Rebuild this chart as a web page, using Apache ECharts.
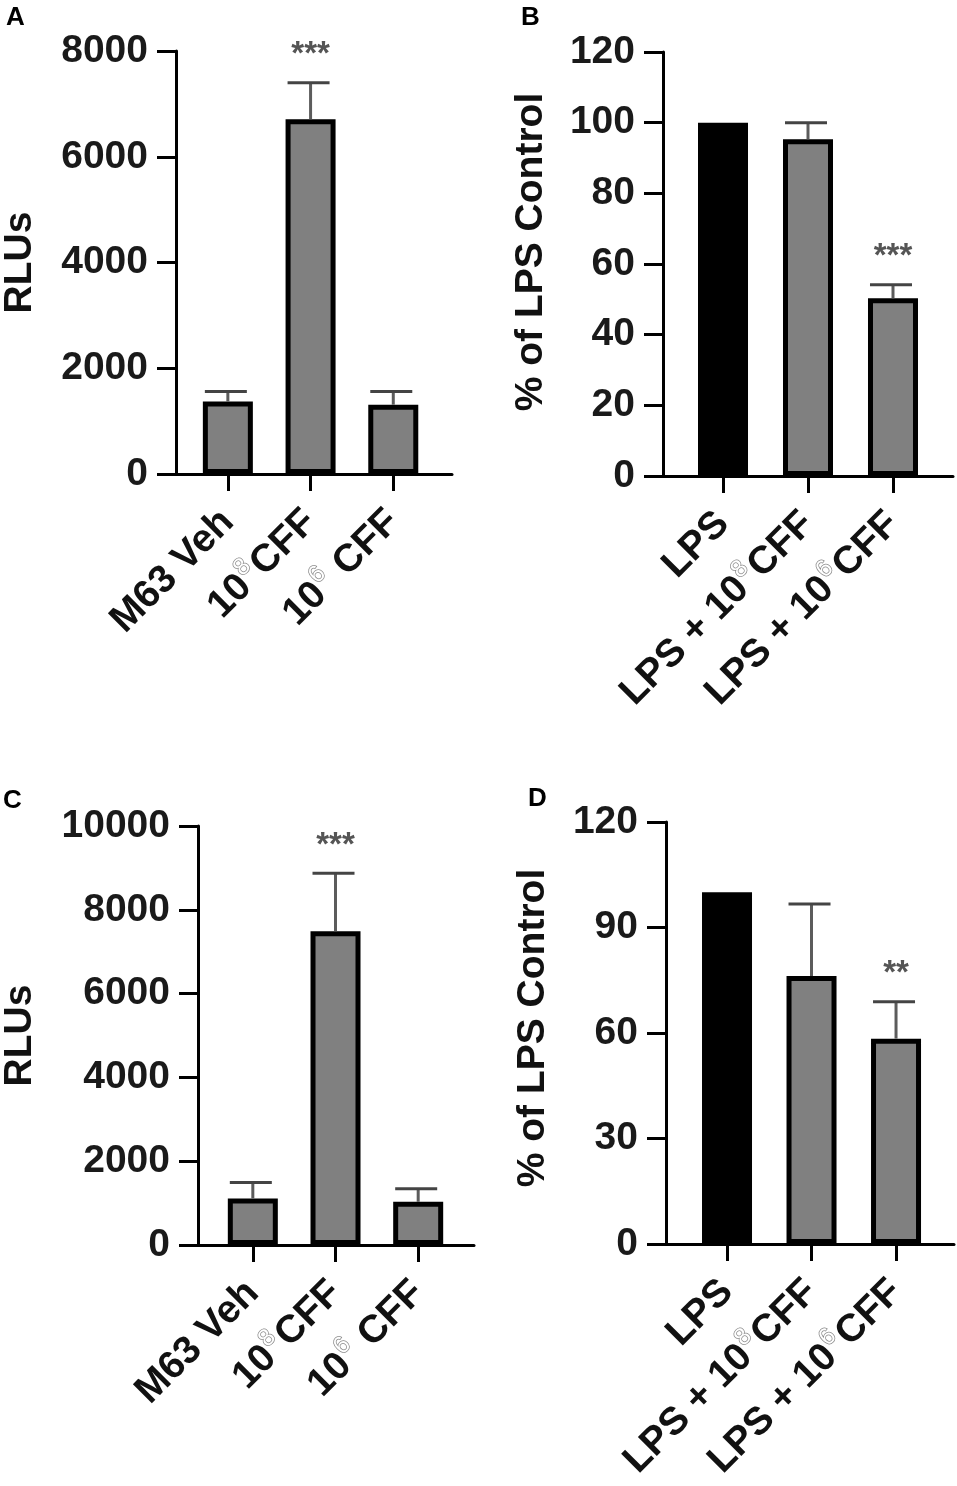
<!DOCTYPE html>
<html lang="en">
<head>
<meta charset="UTF-8">
<title>RLUs / % of LPS Control</title>
<style>
    html, body { margin: 0; padding: 0; background: #fff; }
    #container { width: 957px; height: 1486px; }
</style>
<script src="https://cdn.jsdelivr.net/npm/echarts@6/dist/echarts.min.js"></script>
</head>
<body>
<div id="container"></div>
<script type="text/javascript">
// category labels ({s|..} = superscript)
var labelsRLU = ['M63 Veh', '10{s|8}CFF', '10{s|6} CFF'];
var labelsLPS = ['LPS', 'LPS + 10{s|8}CFF', 'LPS + 10{s|6}CFF'];

// A - RLUs
var meanA = [1370, 6710, 1310];
var semA  = [190, 690, 250];
var starA = ['', '***', ''];

// B - % of LPS control
var meanB = [100, 95.3, 50.3];
var semB  = [0, 4.7, 3.8];
var starB = ['', '', '***'];

// C - RLUs
var meanC = [1110, 7490, 1030];
var semC  = [380, 1380, 310];
var starC = ['', '***', ''];

// D - % of LPS control
var meanD = [100, 76.2, 58.4];
var semD  = [0, 20.5, 10.5];
var starD = ['', '', '**'];

var FONT = '"Liberation Sans", Arial, sans-serif';
var GREY = '#808080';
var FS = 39;

var panels = [
    {letter: 'A', lx: 6,   ly: 5,   grid: {left: 170, top: 51,  width: 282, height: 423}, xr: [-0.627, 2.71],
     yMax: 8000,  yStep: 2000, name: 'RLUs', nameGap: 136, namePad: 0, cats: labelsRLU, mean: meanA, sem: semA, star: starA, ctrl: false},
    {letter: 'B', lx: 521, ly: 5,   grid: {left: 663, top: 52,  width: 290, height: 424}, xr: [-0.706, 2.706],
     yMax: 120,   yStep: 20,   name: '% of LPS Control', nameGap: 112, namePad: [0, 0, 0, 24], cats: labelsLPS, mean: meanB, sem: semB, star: starB, ctrl: true},
    {letter: 'C', lx: 3,   ly: 788, grid: {left: 192, top: 826, width: 282, height: 419}, xr: [-0.663, 2.675],
     yMax: 10000, yStep: 2000, name: 'RLUs', nameGap: 158, namePad: 0, cats: labelsRLU, mean: meanC, sem: semC, star: starC, ctrl: false},
    {letter: 'D', lx: 528, ly: 786, grid: {left: 666, top: 822, width: 288, height: 423}, xr: [-0.722, 2.686],
     yMax: 120,   yStep: 30,   name: '% of LPS Control', nameGap: 113, namePad: [0, 0, 0, 10], cats: labelsLPS, mean: meanD, sem: semD, star: starD, ctrl: true}
];

var myChart = echarts.init(document.getElementById('container'), null, {renderer: 'canvas'});

var grids = [], xAxes = [], yAxes = [], series = [], graphic = [];

panels.forEach(function (p, i) {
    grids.push(p.grid);

    xAxes.push({
        gridIndex: i,
        type: 'value',
        min: p.xr[0],
        max: p.xr[1],
        splitLine: {show: false},
        axisLine: {onZero: false, lineStyle: {color: '#000', width: 3}},
        axisTick: {show: true, customValues: [0, 1, 2], length: 17, lineStyle: {color: '#000', width: 3}},
        axisLabel: {
            customValues: [0, 1, 2],
            rotate: 45,
            margin: 42,
            fontFamily: FONT,
            fontSize: FS,
            fontWeight: 'bold',
            lineHeight: 48,
            color: '#111',
            formatter: function (v) { return p.cats[Math.round(v)]; },
            rich: {
                s: {
                    fontFamily: FONT,
                    fontSize: 24,
                    lineHeight: 24,
                    fontWeight: 'normal',
                    color: '#fff',
                    textBorderColor: '#8a8a8a',
                    textBorderWidth: 1.5,
                    verticalAlign: 'top',
                    padding: [0, 2, 0, 1]
                }
            }
        }
    });

    yAxes.push({
        gridIndex: i,
        type: 'value',
        min: 0,
        max: p.yMax,
        interval: p.yStep,
        name: p.name,
        nameLocation: 'middle',
        nameGap: p.nameGap,
        nameRotate: 90,
        nameTextStyle: {fontFamily: FONT, fontSize: FS, fontWeight: 'bold', color: '#111', padding: p.namePad},
        splitLine: {show: false},
        axisLine: {show: true, onZero: false, lineStyle: {color: '#000', width: 3}},
        axisTick: {show: true, length: 19, lineStyle: {color: '#000', width: 3}},
        axisLabel: {
            margin: 28, fontFamily: FONT, fontSize: FS, fontWeight: 'bold', color: '#1a1a1a',
            formatter: function (v) { return String(v); }
        }
    });

    series.push({
        type: 'bar',
        xAxisIndex: i,
        yAxisIndex: i,
        barWidth: 50,
        silent: true,
        itemStyle: {borderColor: '#000', borderWidth: 5},
        data: p.mean.map(function (v, k) {
            return {value: [k, v], itemStyle: {color: (p.ctrl && k === 0) ? '#000' : GREY}};
        })
    });

    // error bars (mean + SEM) and significance stars
    series.push({
        type: 'custom',
        xAxisIndex: i,
        yAxisIndex: i,
        silent: true,
        z: 3,
        data: p.mean.map(function (v, k) { return [k, v, p.sem[k]]; }),
        renderItem: function (params, api) {
            var k = api.value(0), m = api.value(1), e = api.value(2);
            var base = api.coord([k, m]);
            var top = api.coord([k, m + e]);
            var kids = [];
            if (e > 0) {
                kids.push({type: 'line', shape: {x1: base[0], y1: base[1], x2: top[0], y2: top[1]},
                    style: {stroke: '#5c5c5c', lineWidth: 3}});
                kids.push({type: 'line', shape: {x1: top[0] - 23, y1: top[1], x2: top[0] + 19, y2: top[1]},
                    style: {stroke: '#444', lineWidth: 3}});
            }
            var s = p.star[params.dataIndex];
            if (s) {
                kids.push({type: 'text', x: top[0], y: top[1] - 11,
                    style: {text: s, fill: '#555', font: 'bold 33px ' + FONT, align: 'center', verticalAlign: 'bottom'}});
            }
            return {type: 'group', children: kids};
        }
    });

    graphic.push({type: 'text', left: p.lx, top: p.ly,
        style: {text: p.letter, font: 'bold 26px ' + FONT, fill: '#000'}});
});

var option = {
    backgroundColor: '#fff',
    animation: false,
    grid: grids,
    xAxis: xAxes,
    yAxis: yAxes,
    series: series,
    graphic: graphic
};

myChart.setOption(option);
</script>
</body>
</html>
